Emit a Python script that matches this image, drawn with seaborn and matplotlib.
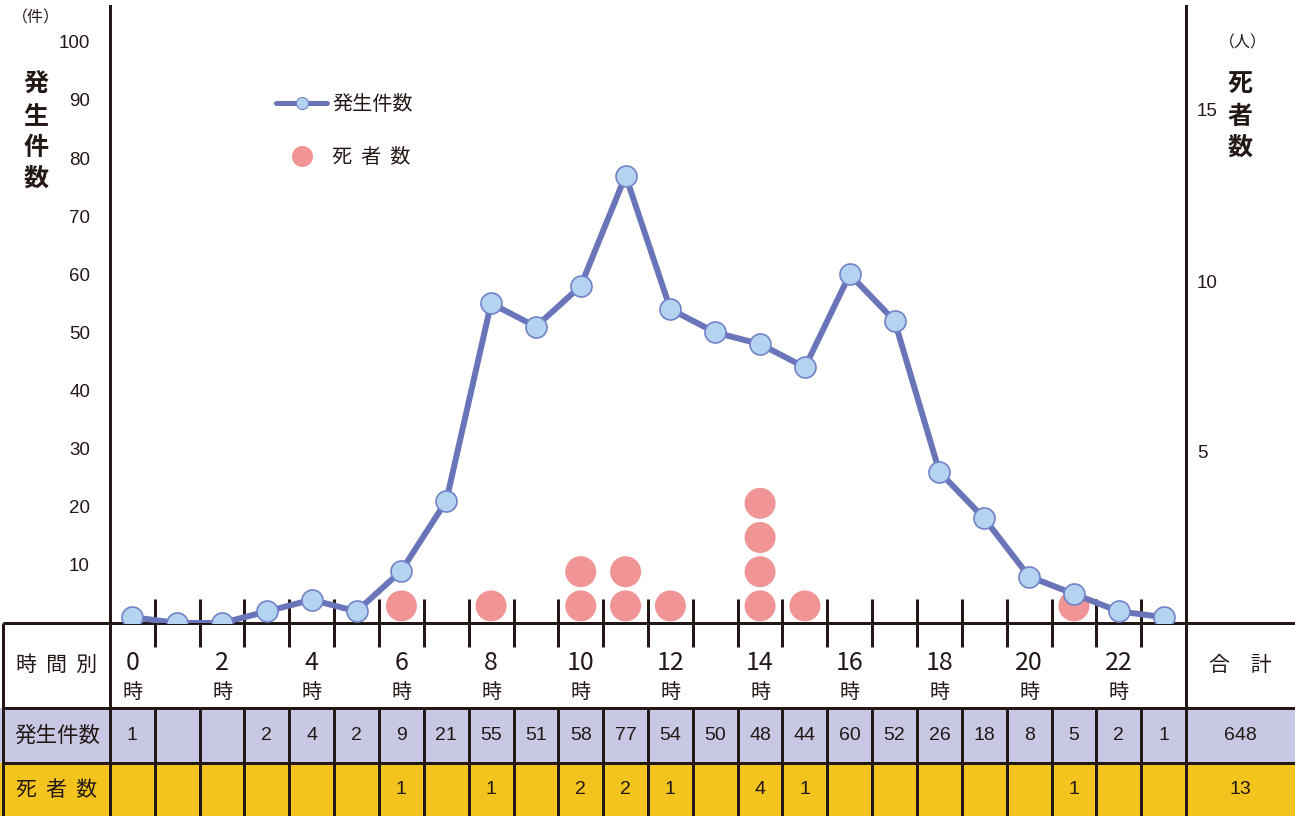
import matplotlib
matplotlib.use("Agg")
import matplotlib.pyplot as plt
from matplotlib.lines import Line2D
from matplotlib.patches import Rectangle
import pandas as pd
import seaborn as sns

# ---- data -------------------------------------------------------------
hours = list(range(24))
incidents = [1, 0, 0, 2, 4, 2, 9, 21, 55, 51, 58, 77,
             54, 50, 48, 44, 60, 52, 26, 18, 8, 5, 2, 1]
deaths = [0, 0, 0, 0, 0, 0, 1, 0, 1, 0, 2, 2,
          1, 0, 4, 1, 0, 0, 0, 0, 0, 1, 0, 0]
hour_label_hours = [0, 2, 4, 6, 8, 10, 12, 14, 16, 18, 20, 22]
left_ticks = [10, 20, 30, 40, 50, 60, 70, 80, 90, 100]
right_ticks = [5, 10, 15]
row_titles = ["時  間  別", "発生件数", "死  者  数"]
total_title = "合　計"
series_names = ["発生件数", "死  者  数"]

# ---- style ------------------------------------------------------------
sns.set_style("white")
plt.rcParams["font.family"] = ["Noto Sans CJK JP", "DejaVu Sans"]
NUM_FONT = ["Liberation Sans", "DejaVu Sans"]

K = "#231815"
LINE_C = "#6a75b9"
MARK_FC = "#b4d3f0"
MARK_EC = "#7282c8"
DOT_C = "#f09496"
LAV = "#c8c8e4"
YEL = "#f3c41e"

W, H = 1295, 816
PT = 72 / 100  # points per pixel at dpi 100
fig = plt.figure(figsize=(W / 100, H / 100), dpi=100)

# plot area (pixel geometry)
L, R, T, B = 110, 1186, 6, 623
ax = fig.add_axes([L / W, 1 - B / H, (R - L) / W, (B - T) / H])
ax2 = ax.twinx()
ax.set_zorder(ax2.get_zorder() + 1)
ax.patch.set_visible(False)

ax.set_xlim(-0.5, 23.5)
ax.set_ylim(0, (B - T) / ((565 - 42) / 90))
ax2.set_ylim(0, (B - T) / ((452 - 110) / 10))

# incidents line
df_line = pd.DataFrame({"hour": hours, "count": incidents})
sns.lineplot(data=df_line, x="hour", y="count", ax=ax, color=LINE_C,
             linewidth=6 * PT, marker="o", markersize=21 * PT,
             markerfacecolor=MARK_FC, markeredgecolor=MARK_EC,
             markeredgewidth=1.2, zorder=3)

# deaths: one stacked dot per person
dot_rows = [(h, k + 0.5) for h, d in zip(hours, deaths) for k in range(d)]
df_dots = pd.DataFrame(dot_rows, columns=["hour", "level"])
sns.scatterplot(data=df_dots, x="hour", y="level", ax=ax2, s=(31 * PT) ** 2,
                color=DOT_C, edgecolor="none", linewidth=0, zorder=2)

for a in (ax, ax2):
    a.set_xlabel("")
    a.set_ylabel("")
    for s in ("top", "bottom"):
        a.spines[s].set_visible(False)
ax.spines["right"].set_visible(False)
ax2.spines["left"].set_visible(False)
ax.spines["left"].set_linewidth(3 * PT)
ax.spines["left"].set_color(K)
ax2.spines["right"].set_linewidth(3 * PT)
ax2.spines["right"].set_color(K)

ax.set_yticks(left_ticks)
ax.set_yticklabels([str(v) for v in left_ticks], family=NUM_FONT)
ax.tick_params(axis="y", length=0, pad=20 * PT, labelsize=13.5, labelcolor=K)
ax2.set_yticks(right_ticks)
ax2.set_yticklabels([str(v) for v in right_ticks], family=NUM_FONT)
ax2.tick_params(axis="y", length=0, pad=11 * PT, labelsize=13.5, labelcolor=K)

# boundary ticks between hours, crossing the base line
ax.set_xticks([h + 0.5 for h in hours[:-1]])
ax.tick_params(axis="x", direction="inout", length=48 * PT, width=3 * PT,
               color=K, labelbottom=False, bottom=True)

# axis titles
fig.text(36 / W, 1 - 18 / H, "（件）", ha="center", va="center", fontsize=11.5, color=K)
for ch, y in zip("発生件数", [85, 117, 148, 179]):
    fig.text(36 / W, 1 - y / H, ch, ha="center", va="center", fontsize=18,
             fontweight="bold", color=K)
fig.text(1243 / W, 1 - 43 / H, "（人）", ha="center", va="center", fontsize=11.5, color=K)
for ch, y in zip("死者数", [85, 117, 148]):
    fig.text(1240 / W, 1 - y / H, ch, ha="center", va="center", fontsize=18,
             fontweight="bold", color=K)

# legend
handles = [
    Line2D([], [], color=LINE_C, lw=5 * PT, marker="o", markersize=12 * PT,
           markerfacecolor=MARK_FC, markeredgecolor=MARK_EC, markeredgewidth=0.8),
    Line2D([], [], ls="none", marker="o", markersize=21 * PT,
           markerfacecolor=DOT_C, markeredgecolor="none"),
]
ax.legend(handles, series_names, loc="upper left",
          bbox_to_anchor=(276 / W, 1 - 94 / H), bbox_transform=fig.transFigure,
          frameon=False, fontsize=14.5, handlelength=2.55, handletextpad=0.25,
          labelspacing=1.6, borderpad=0, borderaxespad=0, numpoints=1,
          labelcolor=K)

# ---- table under the plot -----------------------------------------------
TB = H - B  # table height in px (y measured upward from figure bottom)
tab = fig.add_axes([L / W, 0, (R - L) / W, TB / H])
tab.set_xlim(ax.get_xlim())
tab.set_ylim(0, TB)
tab.axis("off")
ppu = (R - L) / 24.0
x_left = -0.5 - L / ppu
x_border = -0.5 - (L - 3) / ppu
x_right = 23.5 + (W - R) / ppu
x_lab = -0.5 - (L - 57) / ppu
x_tot = 23.5 + (1240 - R) / ppu

y_hdr_bot, y_r2_bot = 108, 53
tab.add_patch(Rectangle((x_left, y_r2_bot), x_right - x_left, y_hdr_bot - y_r2_bot,
                        facecolor=LAV, edgecolor="none", clip_on=False, zorder=0))
tab.add_patch(Rectangle((x_left, 0), x_right - x_left, y_r2_bot,
                        facecolor=YEL, edgecolor="none", clip_on=False, zorder=0))

lw = 3 * PT
tab.hlines([TB, y_hdr_bot, y_r2_bot], x_border, x_right, colors=K, lw=lw, clip_on=False)
tab.vlines([x_border, -0.5, 23.5], 0, TB, colors=K, lw=lw, clip_on=False)
tab.vlines([h + 0.5 for h in hours[:-1]], 0, y_hdr_bot, colors=K, lw=lw, clip_on=False)

# header row
tab.text(x_lab, 151, row_titles[0], ha="center", va="center", fontsize=15,
         color=K, clip_on=False)
for h in hour_label_hours:
    tab.text(h, 153, str(h), ha="center", va="center", fontsize=18, color=K)
    tab.text(h, 123, "時", ha="center", va="center", fontsize=14.5, color=K)
tab.text(x_tot, 151, total_title, ha="center", va="center", fontsize=15,
         color=K, clip_on=False)

# value rows
tab.text(x_lab, 80, row_titles[1], ha="center", va="center", fontsize=15.5,
         color=K, clip_on=False)
tab.text(x_lab, 26, row_titles[2], ha="center", va="center", fontsize=15,
         color=K, clip_on=False)
for h, v in zip(hours, incidents):
    if v:
        tab.text(h, 80, str(v), ha="center", va="center", fontsize=14,
                 family=NUM_FONT, color=K)
for h, v in zip(hours, deaths):
    if v:
        tab.text(h, 26, str(v), ha="center", va="center", fontsize=14,
                 family=NUM_FONT, color=K)
tab.text(x_tot, 80, str(sum(incidents)), ha="center", va="center", fontsize=14,
         family=NUM_FONT, color=K, clip_on=False)
tab.text(x_tot, 26, str(sum(deaths)), ha="center", va="center", fontsize=14,
         family=NUM_FONT, color=K, clip_on=False)

fig.savefig("out.png", dpi=100)
